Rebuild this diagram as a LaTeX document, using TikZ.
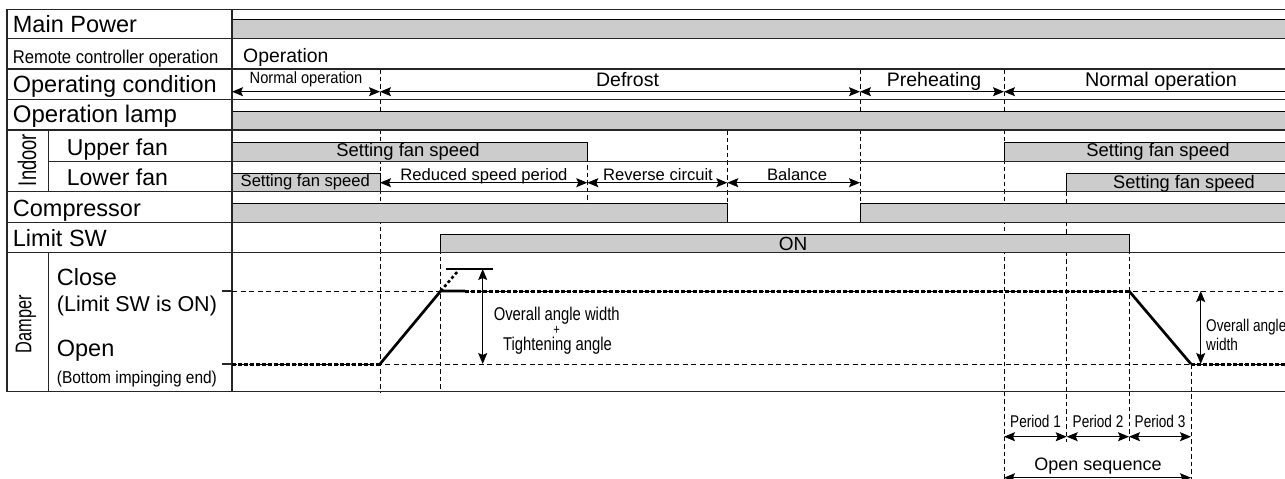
\documentclass[tikz,border=0pt]{standalone}
\usepackage{fontspec}
\setmainfont{Liberation Sans}
\newfontfamily\condA[FakeStretch=0.9]{Liberation Sans}
\newfontfamily\condB[FakeStretch=0.8]{Liberation Sans}
\newfontfamily\condC[FakeStretch=0.72]{Liberation Sans}
\usetikzlibrary{arrows.meta}
\definecolor{bargray}{HTML}{CCCCCC}
\newcommand{\myfs}[1]{\fontsize{#1}{#1}\selectfont}
\tikzset{
  gridline/.style={line width=1.2pt, draw=black!85},
  barbox/.style={draw=black, line width=1pt, fill=bargray},
  vdash/.style={draw=black, line width=0.9pt, dash pattern=on 4.5pt off 3pt},
  thindash/.style={draw=black, line width=0.9pt, dash pattern=on 5pt off 3.5pt},
  heavydash/.style={draw=black, line width=3pt, dash pattern=on 4pt off 2pt},
  heavyline/.style={draw=black, line width=2.7pt},
  dimarrow/.style={draw=black, line width=1pt, {Stealth[length=11pt,width=9pt,inset=2pt]}-{Stealth[length=11pt,width=9pt,inset=2pt]}},
  larrow/.style={draw=black, line width=1pt, {Stealth[length=11pt,width=9pt,inset=2pt]}-},
  lbl/.style={inner sep=0pt, anchor=base west, font=\myfs{23.5}},
  txt/.style={inner sep=0pt, anchor=base},
}
\begin{document}
\begin{tikzpicture}[x=1pt,y=-1pt]
\clip (0,0) rectangle (1285,479);
\fill[white] (0,0) rectangle (1285,479);
% columns
\foreach \n/\v in {XL/7,XS/48.3,XM/222,T0/232,T1/380,TL/440.7,TX/465,T2/587.3,T3/727.3,T4/860,T5/1004,T6/1066.7,T7/1129,T8/1191,XR/1295,AA/482.7,AB/1200.7,TT1/446,TT2/492.7}
  \coordinate (\n) at (\v,0);
% rows
\foreach \n/\v in {R0/9.3,R1/38.3,R2/69,R3/99.3,R4/130,R5/161.7,R6/191.7,R7/222.5,R8/252.7,R9/391.7,B1/19.3,B4/111,B5/142.7,B6/173.3,B7/203.3,B8/234.3,YA/91.7,YF/182.7,YC/291,YO/364,YT/269,YP/436.7,YE/441.7,YS/477.7,YB/485}
  \coordinate (\n) at (0,\v);
\coordinate (ext) at (458,271);

% vertical dashed time lines
\draw[vdash] (T1|-R2) -- (T1|-R9);
\draw[vdash] (TL|-B8) -- (TL|-R9);
\draw[vdash] (T2|-B5) -- (T2|-R7);
\draw[vdash] (T3|-R4) -- (T3|-R7);
\draw[vdash] (T4|-R2) -- (T4|-R7);
\draw[vdash] (T5|-R2) -- (T5|-YB);
\draw[vdash] (T6|-R6) -- (T6|-YE);
\draw[vdash] (T7|-B8) -- (T7|-YE);
\draw[vdash] (T8|-YO) -- (T8|-YB);

% bars
\draw[barbox] (T0|-B1) rectangle (XR|-R1);
\draw[barbox] (T0|-B4) rectangle (XR|-R4);
\draw[barbox] (T0|-B5) rectangle (T2|-R5);
\draw[barbox] (T5|-B5) rectangle (XR|-R5);
\draw[barbox] (T0|-B6) rectangle (T1|-R6);
\draw[barbox] (T6|-B6) rectangle (XR|-R6);
\draw[barbox] (T0|-B7) rectangle (T3|-R7);
\draw[barbox] (T4|-B7) rectangle (XR|-R7);
\draw[barbox] (TL|-B8) rectangle (T7|-R8);

% grid
\foreach \r in {R0,R1,R2,R3,R4,R6,R7,R8,R9}
  \draw[gridline] (XL|-\r) -- (XR|-\r);
\draw[gridline] (XS|-R5) -- (XR|-R5);
\draw[gridline] (XL|-R0) -- (XL|-R9);
\draw[gridline] (T0|-R0) -- (T0|-R9);
\draw[gridline] (XS|-R4) -- (XS|-R6);
\draw[gridline] (XS|-R8) -- (XS|-R9);

% damper traces
\draw[thindash] (T0|-YC) -- (XR|-YC);
\draw[thindash] (T0|-YO) -- (XR|-YO);
\draw[gridline] (XM|-YC) -- (T0|-YC);
\draw[gridline] (XM|-YO) -- (T0|-YO);
\draw[heavydash] (T0|-YO) -- (T1|-YO);
\draw[heavyline] (T1|-YO) -- (TL|-YC) -- (TX|-YC);
\draw[heavydash] (TX|-YC) -- (T7|-YC);
\draw[heavyline] (T7|-YC) -- (T8|-YO);
\draw[heavydash] (T8|-YO) -- (XR|-YO);
\draw[black, line width=2.6pt, dash pattern=on 3pt off 2.5pt] (TL|-YC) -- (ext);
\draw[black, line width=1.1pt] (TT1|-YT) -- (TT2|-YT);
\draw[dimarrow] (AA|-YT) -- (AA|-YO);
\draw[dimarrow] (AB|-YC) -- (AB|-YO);

% span arrows
\draw[dimarrow] (T0|-YA) -- (T1|-YA);
\draw[dimarrow] (T1|-YA) -- (T4|-YA);
\draw[dimarrow] (T4|-YA) -- (T5|-YA);
\draw[larrow] (T5|-YA) -- (XR|-YA);
\draw[dimarrow] (T1|-YF) -- (T2|-YF);
\draw[dimarrow] (T2|-YF) -- (T3|-YF);
\draw[dimarrow] (T3|-YF) -- (T4|-YF);
\draw[dimarrow] (T5|-YP) -- (T6|-YP);
\draw[dimarrow] (T6|-YP) -- (T7|-YP);
\draw[dimarrow] (T7|-YP) -- (T8|-YP);
\draw[dimarrow] (T5|-YS) -- (T8|-YS);

% left labels
\node[lbl] (mp) at (12.7,32.7) {Main Power};
\node[lbl, font=\condA\myfs{18.5}] (rc) at (12.7,63.3) {Remote controller operation};
\node[lbl] (oc) at (12.7,92.7) {Operating condition};
\node[lbl, font=\myfs{24}] (ol) at (12.7,122.7) {Operation lamp};
\node[lbl, font=\myfs{23}] (uf) at (66.7,155) {Upper fan};
\node[lbl, font=\myfs{23}] (lf) at (66.7,185) {Lower fan};
\node[lbl] (cp) at (12.7,216.7) {Compressor};
\node[lbl] (ls) at (12.7,246.7) {Limit SW};
\node[lbl] (cl) at (56.7,285) {Close};
\node[lbl, font=\myfs{21.5}] (clon) at (56.7,311.7) {(Limit SW is ON)};
\node[lbl] (op) at (56.7,356.7) {Open};
\node[lbl, font=\condA\myfs{17.2}] (opb) at (56.7,383.3) {(Bottom impinging end)};
\node[inner sep=0pt, rotate=90, font=\condC\myfs{25.5}] (indoor) at (27,160) {Indoor};
\node[inner sep=0pt, rotate=90, font=\condC\myfs{22.7}] (damper) at (26,324) {Damper};

% chart texts
\node[inner sep=0pt, anchor=base west, font=\myfs{19.4}] (oper) at (243,62.7) {Operation};
\node[txt, font=\condA\myfs{16.3}] (no1) at (306,83.3) {Normal operation};
\node[txt, font=\myfs{19.5}] (def) at (627.5,86) {Defrost};
\node[txt, font=\myfs{19.5}] (pre) at (934,86) {Preheating};
\node[txt, font=\myfs{19.8}] (no2) at (1161,86) {Normal operation};
\node[txt, font=\myfs{18.4}] (sfu1) at (408,156.7) {Setting fan speed};
\node[txt, font=\myfs{18.4}] (sfu2) at (1158,156.7) {Setting fan speed};
\node[txt, font=\myfs{16.6}] (sfl1) at (305.3,186.7) {Setting fan speed};
\node[txt, font=\myfs{18.2}] (sfl2) at (1184,188.3) {Setting fan speed};
\node[txt, font=\myfs{16.6}] (red) at (484,180) {Reduced speed period};
\node[txt, font=\myfs{16.6}] (rev) at (658,180) {Reverse circuit};
\node[txt, font=\myfs{16.6}] (bal) at (797,180) {Balance};
\node[txt, font=\myfs{19}] (on) at (793,250) {ON};
\node[txt, font=\condB\myfs{18.5}] (oaw) at (556.7,320) {Overall angle width};
\node[inner sep=0pt, font=\condB\myfs{14}] (plus) at (556.7,330) {+};
\node[txt, font=\condB\myfs{18.5}] (tight) at (557.5,350) {Tightening angle};
\node[inner sep=0pt, anchor=base west, font=\condB\myfs{17}] (oa2) at (1206,331.7) {Overall angle};
\node[inner sep=0pt, anchor=base west, font=\condB\myfs{17}] (w2) at (1206,350) {width};
\node[txt, font=\condB\myfs{17}] (p1) at (1035.5,427.3) {Period 1};
\node[txt, font=\condB\myfs{17}] (p2) at (1098,427.3) {Period 2};
\node[txt, font=\condB\myfs{17}] (p3) at (1160,427.3) {Period 3};
\node[txt, font=\myfs{18}] (oseq) at (1098,470) {Open sequence};
\end{tikzpicture}
\end{document}
